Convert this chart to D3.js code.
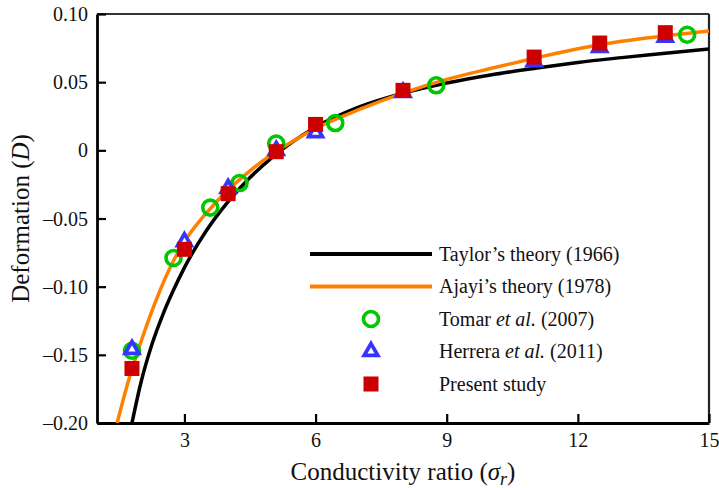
<html>
  <head>
    <meta charset="UTF-8">
    <script src="https://d3js.org/d3.v7.min.js"></script>
    <style type="text/css">
    body {
      margin: 0;
      background: #fff;
      font-family: 'Liberation Serif', 'Times New Roman', serif;
    }
    </style>
  </head>
  <body>
  </body>
  <script>
    // curves
    var taylorX = [1.8, 2.0, 2.25, 2.5, 2.75, 3, 3.5, 4, 4.5, 5, 6, 7, 8, 9, 10, 11, 12, 13, 14, 15];
    var taylorD = [-0.200, -0.171, -0.143, -0.121, -0.1025, -0.086, -0.059, -0.0376, -0.020, -0.0053, 0.017, 0.0318, 0.0419, 0.0494, 0.0553, 0.0601, 0.0645, 0.068, 0.0712, 0.0744];

    var ajayiX = [1.46, 1.72, 2.0, 2.35, 2.75, 3, 3.5, 4, 4.5, 5, 5.5, 6, 7, 8, 9, 10, 11, 12, 13, 14, 15];
    var ajayiD = [-0.200, -0.169, -0.141, -0.110, -0.081, -0.067, -0.046, -0.029, -0.015, -0.003, 0.007, 0.016, 0.030, 0.042, 0.052, 0.060, 0.0675, 0.0745, 0.080, 0.084, 0.0875];

    // markers
    var tomarX = [1.8, 2.75, 3.59, 4.26, 5.1, 6.45, 8.76, 14.5];
    var tomarD = [-0.147, -0.079, -0.042, -0.024, 0.005, 0.020, 0.0477, 0.0848];

    var herreraX = [1.8, 3.0, 4.0, 5.1, 6.0, 8.0, 11.0, 12.5, 14.0];
    var herreraD = [-0.146, -0.067, -0.028, 0.0, 0.013, 0.0425, 0.065, 0.0755, 0.083];

    var presentX = [1.8, 3.0, 4.0, 5.1, 6.0, 8.0, 11.0, 12.5, 14.0];
    var presentD = [-0.160, -0.0726, -0.0318, -0.001, 0.019, 0.044, 0.0684, 0.0787, 0.0863];

    var xTicks = [3, 6, 9, 12, 15];
    var xTickLabels = ["3", "6", "9", "12", "15"];
    var yTicks = [-0.20, -0.15, -0.10, -0.05, 0, 0.05, 0.10];
    var yTickLabels = ["\u20130.20", "\u20130.15", "\u20130.10", "\u20130.05", "0", "0.05", "0.10"];

    var margin = {top: 14, right: 10, bottom: 65, left: 97},
        width = 719 - margin.left - margin.right,
        height = 488 - margin.top - margin.bottom;

    var svg = d3.select("body")
      .append("svg")
        .attr("width", 719)
        .attr("height", 488)
      .append("g")
        .attr("transform", "translate(" + margin.left + "," + margin.top + ")");

    var x = d3.scaleLinear().domain([1, 15]).range([0, width]);
    var y = d3.scaleLinear().domain([-0.20, 0.10]).range([height, 0]);

    svg.append("defs").append("clipPath")
        .attr("id", "plotclip")
      .append("rect")
        .attr("width", width)
        .attr("height", height);

    // top and right frame
    svg.append("line")
      .attr("x1", 0).attr("x2", width).attr("y1", 0).attr("y2", 0)
      .attr("stroke", "#333").attr("stroke-width", 2);
    svg.append("line")
      .attr("x1", width).attr("x2", width).attr("y1", 0).attr("y2", height)
      .attr("stroke", "#222").attr("stroke-width", 2.2);

    var xAxis = svg.append("g")
      .attr("transform", "translate(0," + height + ")")
      .call(d3.axisBottom(x)
        .tickValues(xTicks)
        .tickFormat(function(d, i) { return xTickLabels[i]; })
        .tickSizeInner(-9).tickSizeOuter(0).tickPadding(10));

    var yAxis = svg.append("g")
      .call(d3.axisLeft(y)
        .tickValues(yTicks)
        .tickFormat(function(d, i) { return yTickLabels[i]; })
        .tickSizeInner(-9).tickSizeOuter(0).tickPadding(9));

    [xAxis, yAxis].forEach(function(a) {
      a.select(".domain").attr("stroke", "#000").attr("stroke-width", 2.8);
      a.selectAll(".tick line").attr("stroke", "#000").attr("stroke-width", 2.2);
      a.selectAll(".tick text")
        .attr("fill", "#111")
        .style("font-family", "'Liberation Serif', serif")
        .style("font-size", "20px");
    });
    yAxis.selectAll(".tick text").attr("dy", "0.33em");

    // theory lines
    var line = d3.line()
      .curve(d3.curveMonotoneX)
      .x(function(d) { return x(d[0]); })
      .y(function(d) { return y(d[1]); });

    var curves = svg.append("g").attr("clip-path", "url(#plotclip)");
    curves.append("path")
      .datum(d3.zip(taylorX, taylorD))
      .attr("fill", "none")
      .attr("stroke", "#000")
      .attr("stroke-width", 3.5)
      .attr("d", line);
    curves.append("path")
      .datum(d3.zip(ajayiX, ajayiD))
      .attr("fill", "none")
      .attr("stroke", "#ff8000")
      .attr("stroke-width", 3.5)
      .attr("d", line);

    // markers
    var green = "#00c800", blue = "#3535ff", red = "#cc0000";
    var tri = d3.symbol().type(d3.symbolTriangle).size(80);

    svg.selectAll(".tomar")
      .data(d3.zip(tomarX, tomarD))
      .enter().append("circle")
        .attr("cx", function(d) { return x(d[0]); })
        .attr("cy", function(d) { return y(d[1]); })
        .attr("r", 7.5)
        .attr("fill", "none")
        .attr("stroke", green)
        .attr("stroke-width", 3.6);

    svg.selectAll(".herrera")
      .data(d3.zip(herreraX, herreraD))
      .enter().append("path")
        .attr("d", tri)
        .attr("transform", function(d) { return "translate(" + x(d[0]) + "," + y(d[1]) + ")"; })
        .attr("fill", "#fff")
        .attr("stroke", blue)
        .attr("stroke-width", 3.8);

    svg.selectAll(".present")
      .data(d3.zip(presentX, presentD))
      .enter().append("rect")
        .attr("x", function(d) { return x(d[0]) - 7.5; })
        .attr("y", function(d) { return y(d[1]) - 7.5; })
        .attr("width", 15)
        .attr("height", 15)
        .attr("fill", red);

    // legend
    var lg = svg.append("g").attr("transform", "translate(213,240)");
    var rows = [
      {type: "line", color: "#000", text: ["Taylor\u2019s theory (1966)"]},
      {type: "line", color: "#ff8000", text: ["Ajayi\u2019s theory (1978)"]},
      {type: "circle", text: ["Tomar ", "et al.", " (2007)"]},
      {type: "tri", text: ["Herrera ", "et al.", " (2011)"]},
      {type: "square", text: ["Present study"]}
    ];
    rows.forEach(function(r, i) {
      var cy = i * 32.5;
      if (r.type == "line") {
        lg.append("line")
          .attr("x1", 0).attr("x2", 122).attr("y1", cy).attr("y2", cy)
          .attr("stroke", r.color).attr("stroke-width", 4);
      } else if (r.type == "circle") {
        lg.append("circle").attr("cx", 61).attr("cy", cy).attr("r", 7.5)
          .attr("fill", "none").attr("stroke", green).attr("stroke-width", 3.6);
      } else if (r.type == "tri") {
        lg.append("path").attr("d", tri)
          .attr("transform", "translate(61," + cy + ")")
          .attr("fill", "#fff").attr("stroke", blue).attr("stroke-width", 3.8);
      } else {
        lg.append("rect").attr("x", 61 - 7.5).attr("y", cy - 7.5)
          .attr("width", 15).attr("height", 15).attr("fill", red);
      }
      var t = lg.append("text")
        .attr("x", 129)
        .attr("y", cy)
        .attr("dy", "0.33em")
        .style("font-size", "20px")
        .attr("fill", "#111");
      r.text.forEach(function(s, j) {
        t.append("tspan").style("font-style", j == 1 ? "italic" : "normal").text(s);
      });
    });

    // axis titles
    var xl = svg.append("text")
      .attr("x", width / 2)
      .attr("y", height + 57)
      .attr("text-anchor", "middle")
      .style("font-size", "25px")
      .attr("fill", "#111");
    xl.append("tspan").text("Conductivity ratio (");
    xl.append("tspan").style("font-style", "italic").text("\u03c3");
    xl.append("tspan").style("font-style", "italic").style("font-size", "18px").attr("dy", 5).text("r");
    xl.append("tspan").attr("dy", -5).text(")");

    var yl = svg.append("text")
      .attr("transform", "translate(" + (29 - margin.left) + "," + (height / 2) + ") rotate(-90)")
      .attr("text-anchor", "middle")
      .style("font-size", "25px")
      .attr("fill", "#111");
    yl.append("tspan").text("Deformation (");
    yl.append("tspan").style("font-style", "italic").text("D");
    yl.append("tspan").text(")");
  </script>
</html>
